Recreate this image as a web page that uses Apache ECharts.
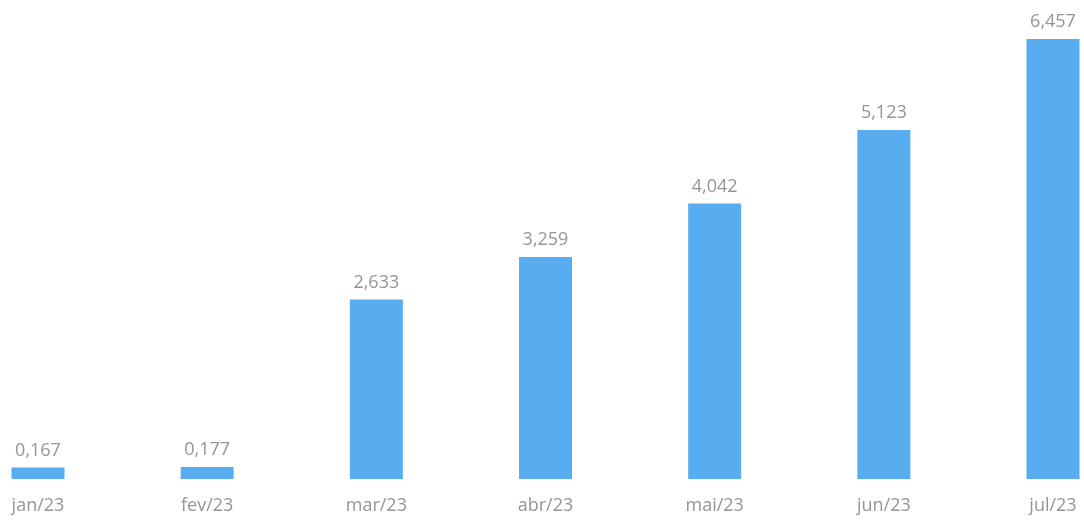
<!DOCTYPE html>
<html>
<head>
<meta charset="utf-8">
<script src="https://cdn.jsdelivr.net/npm/echarts@6/dist/echarts.min.js"></script>
<style>
html,body{margin:0;padding:0;background:#ffffff;}
#chart{width:1084px;height:522px;}
</style>
</head>
<body>
<div id="chart"></div>
<script>
const categories = ['jan/23','fev/23','mar/23','abr/23','mai/23','jun/23','jul/23'];
const values = [0.167, 0.177, 2.633, 3.259, 4.042, 5.123, 6.457];

const chart = echarts.init(document.getElementById('chart'), null, {renderer:'canvas'});
chart.setOption({
  backgroundColor: '#ffffff',
  animation: false,
  grid: {left: 38, right: 31, top: 2, bottom: 43, containLabel: false},
  xAxis: {
    type: 'category',
    data: categories,
    boundaryGap: false,
    axisLine: {show: false},
    axisTick: {show: false},
    splitLine: {show: false},
    axisLabel: {color: '#959595', fontSize: 18, fontFamily: 'Open Sans', margin: 18}
  },
  yAxis: {
    type: 'value', min: 0, max: 7, show: false,
    splitLine: {show: false}
  },
  series: [{
    type: 'bar',
    data: values,
    barWidth: 53,
    itemStyle: {color: '#58adf1'},
    label: {
      show: true, position: 'top', distance: 8,
      color: '#959595', fontSize: 18, fontFamily: 'Open Sans',
      formatter: p => p.value.toFixed(3).replace('.', ',')
    }
  }]
});
</script>
</body>
</html>
